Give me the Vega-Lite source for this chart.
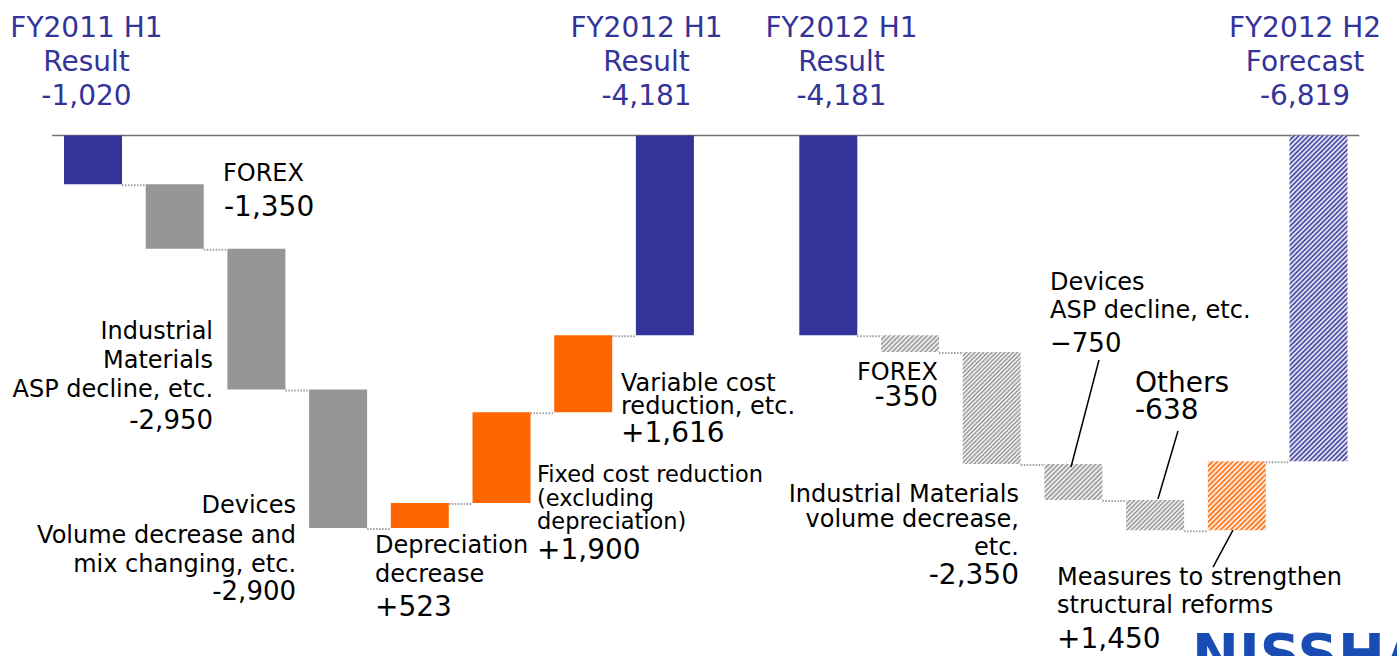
{
  "$schema": "https://vega.github.io/schema/vega-lite/v6.json",
  "width": 1397,
  "height": 656,
  "padding": 0,
  "autosize": {"type": "none"},
  "background": "white",
  "config": {"view": {"stroke": null}},
  "datasets": {
    "bars": [
      {"slot": 0, "item": "FY2011 H1 Result", "delta": -1020, "start": 0, "end": -1020, "kind": "result", "next": 1},
      {"slot": 1, "item": "FOREX", "delta": -1350, "start": -1020, "end": -2370, "kind": "decrease", "next": 2},
      {"slot": 2, "item": "Industrial Materials ASP decline", "delta": -2950, "start": -2370, "end": -5320, "kind": "decrease", "next": 3},
      {"slot": 3, "item": "Devices volume decrease and mix changing", "delta": -2900, "start": -5320, "end": -8220, "kind": "decrease", "next": 4},
      {"slot": 4, "item": "Depreciation decrease", "delta": 523, "start": -8220, "end": -7697, "kind": "increase", "next": 5},
      {"slot": 5, "item": "Fixed cost reduction", "delta": 1900, "start": -7697, "end": -5797, "kind": "increase", "next": 6},
      {"slot": 6, "item": "Variable cost reduction", "delta": 1616, "start": -5797, "end": -4181, "kind": "increase", "next": 7},
      {"slot": 7, "item": "FY2012 H1 Result", "delta": -4181, "start": 0, "end": -4181, "kind": "result", "next": null},
      {"slot": 9, "item": "FY2012 H1 Result", "delta": -4181, "start": 0, "end": -4181, "kind": "result", "next": 10},
      {"slot": 10, "item": "FOREX", "delta": -350, "start": -4181, "end": -4531, "kind": "decrease forecast", "next": 11},
      {"slot": 11, "item": "Industrial Materials volume decrease", "delta": -2350, "start": -4531, "end": -6881, "kind": "decrease forecast", "next": 12},
      {"slot": 12, "item": "Devices ASP decline", "delta": -750, "start": -6881, "end": -7631, "kind": "decrease forecast", "next": 13},
      {"slot": 13, "item": "Others", "delta": -638, "start": -7631, "end": -8269, "kind": "decrease forecast", "next": 14},
      {"slot": 14, "item": "Measures to strengthen structural reforms", "delta": 1450, "start": -8269, "end": -6819, "kind": "increase forecast", "next": 15},
      {"slot": 15, "item": "FY2012 H2 Forecast", "delta": -6819, "start": 0, "end": -6819, "kind": "result forecast", "next": null}
    ],
    "labels": [
      {"t": "FY2011 H1", "x": -0.08, "y": 2063, "g": "top"},
      {"t": "Result", "x": -0.08, "y": 1351, "g": "top"},
      {"t": "-1,020", "x": -0.08, "y": 639, "g": "top"},
      {"t": "FY2012 H1", "x": 6.775, "y": 2063, "g": "top"},
      {"t": "Result", "x": 6.775, "y": 1351, "g": "top"},
      {"t": "-4,181", "x": 6.775, "y": 639, "g": "top"},
      {"t": "FY2012 H1", "x": 9.162, "y": 2063, "g": "top"},
      {"t": "Result", "x": 9.162, "y": 1351, "g": "top"},
      {"t": "-4,181", "x": 9.162, "y": 639, "g": "top"},
      {"t": "FY2012 H2", "x": 14.835, "y": 2063, "g": "top"},
      {"t": "Forecast", "x": 14.835, "y": 1351, "g": "top"},
      {"t": "-6,819", "x": 14.835, "y": 639, "g": "top"},
      {"t": "FOREX", "x": 1.591, "y": -953, "g": "nl"},
      {"t": "-1,350", "x": 1.603, "y": -1686, "g": "vl"},
      {"t": "Industrial", "x": 1.469, "y": -4261, "g": "nr"},
      {"t": "Materials", "x": 1.469, "y": -4869, "g": "nr"},
      {"t": "ASP decline, etc.", "x": 1.469, "y": -5476, "g": "nr"},
      {"t": "-2,950", "x": 1.469, "y": -6146, "g": "vsr"},
      {"t": "Devices", "x": 2.485, "y": -7906, "g": "nr"},
      {"t": "Volume decrease and", "x": 2.485, "y": -8534, "g": "nr"},
      {"t": "mix changing, etc.", "x": 2.485, "y": -9141, "g": "nr"},
      {"t": "-2,900", "x": 2.485, "y": -9727, "g": "vsr"},
      {"t": "Depreciation", "x": 3.452, "y": -8743, "g": "nl"},
      {"t": "decrease", "x": 3.452, "y": -9351, "g": "nl"},
      {"t": "+523", "x": 3.452, "y": -10063, "g": "vl"},
      {"t": "Fixed cost reduction", "x": 5.435, "y": -7256, "g": "ns"},
      {"t": "(excluding", "x": 5.435, "y": -7759, "g": "ns"},
      {"t": "depreciation)", "x": 5.435, "y": -8240, "g": "ns"},
      {"t": "+1,900", "x": 5.435, "y": -8869, "g": "vl"},
      {"t": "Variable cost", "x": 6.463, "y": -5351, "g": "nl"},
      {"t": "reduction, etc.", "x": 6.463, "y": -5833, "g": "nl"},
      {"t": "+1,616", "x": 6.463, "y": -6419, "g": "vl"},
      {"t": "FOREX", "x": 10.343, "y": -5120, "g": "nr"},
      {"t": "-350", "x": 10.343, "y": -5665, "g": "vr"},
      {"t": "Industrial Materials", "x": 11.334, "y": -7675, "g": "nr"},
      {"t": "volume decrease,", "x": 11.334, "y": -8199, "g": "nr"},
      {"t": "etc.", "x": 11.334, "y": -8785, "g": "nr"},
      {"t": "-2,350", "x": 11.334, "y": -9392, "g": "vr"},
      {"t": "Devices", "x": 11.714, "y": -3236, "g": "nl"},
      {"t": "ASP decline, etc.", "x": 11.714, "y": -3822, "g": "nl"},
      {"t": "−750", "x": 11.714, "y": -4534, "g": "vsl"},
      {"t": "Others", "x": 12.754, "y": -5372, "g": "vl"},
      {"t": "-638", "x": 12.754, "y": -5937, "g": "vl"},
      {"t": "Measures to strengthen", "x": 11.799, "y": -9413, "g": "nl"},
      {"t": "structural reforms", "x": 11.799, "y": -9999, "g": "nl"},
      {"t": "+1,450", "x": 11.799, "y": -10733, "g": "vl"},
      {"t": "NISSHA", "x": 13.452, "y": -11256, "g": "logo"}
    ],
    "leaders": [
      {"x": 12.313, "y": -4701, "x2": 11.971, "y2": -6942},
      {"x": 13.28, "y": -6188, "x2": 13.035, "y2": -7612},
      {"x": 13.953, "y": -8262, "x2": 13.709, "y2": -9037}
    ]
  },
  "layer": [
    {
      "data": {"values": [{"zero": 0}]},
      "mark": {"type": "rule", "color": "#707070", "strokeWidth": 1.6},
      "encoding": {
        "x": {"datum": -0.5, "type": "quantitative", "scale": {"domain": [-1.1383, 15.9608], "nice": false, "zero": false, "padding": 0}, "axis": null},
        "x2": {"datum": 15.5},
        "y": {"field": "zero", "type": "quantitative", "scale": {"domain": [-10900, 2838], "nice": false, "zero": false}, "axis": null}
      }
    },
    {
      "data": {"name": "bars"},
      "transform": [{"filter": "datum.next != null"}],
      "mark": {"type": "rule", "color": "#a0a0a0", "strokeWidth": 2, "strokeDash": [1.5, 1.5], "xOffset": 29, "x2Offset": -29, "yOffset": 1},
      "encoding": {
        "x": {"field": "slot", "type": "quantitative", "scale": {"domain": [-1.1383, 15.9608], "nice": false, "zero": false, "padding": 0}, "axis": null},
        "x2": {"field": "next"},
        "y": {"field": "end", "type": "quantitative", "scale": {"domain": [-10900, 2838], "nice": false, "zero": false}, "axis": null}
      }
    },
    {
      "data": {"name": "bars"},
      "transform": [{"filter": "datum.slot < 10"}],
      "mark": {"type": "bar", "width": 58, "orient": "vertical"},
      "encoding": {
        "x": {"field": "slot", "type": "quantitative", "scale": {"domain": [-1.1383, 15.9608], "nice": false, "zero": false, "padding": 0}, "axis": null},
        "y": {"field": "start", "type": "quantitative", "scale": {"domain": [-10900, 2838], "nice": false, "zero": false}, "axis": null},
        "y2": {"field": "end"},
        "color": {
          "field": "kind", "type": "nominal", "legend": null,
          "scale": {"domain": ["result", "decrease", "increase"], "range": ["#333399", "#969696", "#ff6600"]}
        }
      }
    },
    {
      "data": {"name": "bars"},
      "transform": [{"filter": "datum.slot == 10"}],
      "mark": {"type": "bar", "width": 58, "orient": "vertical", "fill": {"gradient": "linear", "x1": 0, "y1": 0, "x2": 1.1893, "y2": 0.3427, "stops": [
        {"offset": 0, "color": "#8f8f8f"}, {"offset": 0.03125, "color": "#fff"}, {"offset": 0.0625, "color": "#8f8f8f"}, {"offset": 0.09375, "color": "#fff"},
        {"offset": 0.125, "color": "#8f8f8f"}, {"offset": 0.15625, "color": "#fff"}, {"offset": 0.1875, "color": "#8f8f8f"}, {"offset": 0.21875, "color": "#fff"},
        {"offset": 0.25, "color": "#8f8f8f"}, {"offset": 0.28125, "color": "#fff"}, {"offset": 0.3125, "color": "#8f8f8f"}, {"offset": 0.34375, "color": "#fff"},
        {"offset": 0.375, "color": "#8f8f8f"}, {"offset": 0.40625, "color": "#fff"}, {"offset": 0.4375, "color": "#8f8f8f"}, {"offset": 0.46875, "color": "#fff"},
        {"offset": 0.5, "color": "#8f8f8f"}, {"offset": 0.53125, "color": "#fff"}, {"offset": 0.5625, "color": "#8f8f8f"}, {"offset": 0.59375, "color": "#fff"},
        {"offset": 0.625, "color": "#8f8f8f"}, {"offset": 0.65625, "color": "#fff"}, {"offset": 0.6875, "color": "#8f8f8f"}, {"offset": 0.71875, "color": "#fff"},
        {"offset": 0.75, "color": "#8f8f8f"}, {"offset": 0.78125, "color": "#fff"}, {"offset": 0.8125, "color": "#8f8f8f"}, {"offset": 0.84375, "color": "#fff"},
        {"offset": 0.875, "color": "#8f8f8f"}, {"offset": 0.90625, "color": "#fff"}, {"offset": 0.9375, "color": "#8f8f8f"}, {"offset": 0.96875, "color": "#fff"},
        {"offset": 1, "color": "#8f8f8f"}]}},
      "encoding": {
        "x": {"field": "slot", "type": "quantitative", "scale": {"domain": [-1.1383, 15.9608], "nice": false, "zero": false, "padding": 0}, "axis": null},
        "y": {"field": "start", "type": "quantitative", "scale": {"domain": [-10900, 2838], "nice": false, "zero": false}, "axis": null},
        "y2": {"field": "end"}
      }
    },
    {
      "data": {"name": "bars"},
      "transform": [{"filter": "datum.slot == 11"}],
      "mark": {"type": "bar", "width": 58, "orient": "vertical", "fill": {"gradient": "linear", "x1": 0, "y1": 0, "x2": 0.6188, "y2": 1.1971, "stops": [
        {"offset": 0, "color": "#8f8f8f"}, {"offset": 0.0125, "color": "#fff"}, {"offset": 0.025, "color": "#8f8f8f"}, {"offset": 0.0375, "color": "#fff"},
        {"offset": 0.05, "color": "#8f8f8f"}, {"offset": 0.0625, "color": "#fff"}, {"offset": 0.075, "color": "#8f8f8f"}, {"offset": 0.0875, "color": "#fff"},
        {"offset": 0.1, "color": "#8f8f8f"}, {"offset": 0.1125, "color": "#fff"}, {"offset": 0.125, "color": "#8f8f8f"}, {"offset": 0.1375, "color": "#fff"},
        {"offset": 0.15, "color": "#8f8f8f"}, {"offset": 0.1625, "color": "#fff"}, {"offset": 0.175, "color": "#8f8f8f"}, {"offset": 0.1875, "color": "#fff"},
        {"offset": 0.2, "color": "#8f8f8f"}, {"offset": 0.2125, "color": "#fff"}, {"offset": 0.225, "color": "#8f8f8f"}, {"offset": 0.2375, "color": "#fff"},
        {"offset": 0.25, "color": "#8f8f8f"}, {"offset": 0.2625, "color": "#fff"}, {"offset": 0.275, "color": "#8f8f8f"}, {"offset": 0.2875, "color": "#fff"},
        {"offset": 0.3, "color": "#8f8f8f"}, {"offset": 0.3125, "color": "#fff"}, {"offset": 0.325, "color": "#8f8f8f"}, {"offset": 0.3375, "color": "#fff"},
        {"offset": 0.35, "color": "#8f8f8f"}, {"offset": 0.3625, "color": "#fff"}, {"offset": 0.375, "color": "#8f8f8f"}, {"offset": 0.3875, "color": "#fff"},
        {"offset": 0.4, "color": "#8f8f8f"}, {"offset": 0.4125, "color": "#fff"}, {"offset": 0.425, "color": "#8f8f8f"}, {"offset": 0.4375, "color": "#fff"},
        {"offset": 0.45, "color": "#8f8f8f"}, {"offset": 0.4625, "color": "#fff"}, {"offset": 0.475, "color": "#8f8f8f"}, {"offset": 0.4875, "color": "#fff"},
        {"offset": 0.5, "color": "#8f8f8f"}, {"offset": 0.5125, "color": "#fff"}, {"offset": 0.525, "color": "#8f8f8f"}, {"offset": 0.5375, "color": "#fff"},
        {"offset": 0.55, "color": "#8f8f8f"}, {"offset": 0.5625, "color": "#fff"}, {"offset": 0.575, "color": "#8f8f8f"}, {"offset": 0.5875, "color": "#fff"},
        {"offset": 0.6, "color": "#8f8f8f"}, {"offset": 0.6125, "color": "#fff"}, {"offset": 0.625, "color": "#8f8f8f"}, {"offset": 0.6375, "color": "#fff"},
        {"offset": 0.65, "color": "#8f8f8f"}, {"offset": 0.6625, "color": "#fff"}, {"offset": 0.675, "color": "#8f8f8f"}, {"offset": 0.6875, "color": "#fff"},
        {"offset": 0.7, "color": "#8f8f8f"}, {"offset": 0.7125, "color": "#fff"}, {"offset": 0.725, "color": "#8f8f8f"}, {"offset": 0.7375, "color": "#fff"},
        {"offset": 0.75, "color": "#8f8f8f"}, {"offset": 0.7625, "color": "#fff"}, {"offset": 0.775, "color": "#8f8f8f"}, {"offset": 0.7875, "color": "#fff"},
        {"offset": 0.8, "color": "#8f8f8f"}, {"offset": 0.8125, "color": "#fff"}, {"offset": 0.825, "color": "#8f8f8f"}, {"offset": 0.8375, "color": "#fff"},
        {"offset": 0.85, "color": "#8f8f8f"}, {"offset": 0.8625, "color": "#fff"}, {"offset": 0.875, "color": "#8f8f8f"}, {"offset": 0.8875, "color": "#fff"},
        {"offset": 0.9, "color": "#8f8f8f"}, {"offset": 0.9125, "color": "#fff"}, {"offset": 0.925, "color": "#8f8f8f"}, {"offset": 0.9375, "color": "#fff"},
        {"offset": 0.95, "color": "#8f8f8f"}, {"offset": 0.9625, "color": "#fff"}, {"offset": 0.975, "color": "#8f8f8f"}, {"offset": 0.9875, "color": "#fff"},
        {"offset": 1, "color": "#8f8f8f"}]}},
      "encoding": {
        "x": {"field": "slot", "type": "quantitative", "scale": {"domain": [-1.1383, 15.9608], "nice": false, "zero": false, "padding": 0}, "axis": null},
        "y": {"field": "start", "type": "quantitative", "scale": {"domain": [-10900, 2838], "nice": false, "zero": false}, "axis": null},
        "y2": {"field": "end"}
      }
    },
    {
      "data": {"name": "bars"},
      "transform": [{"filter": "datum.slot == 12"}],
      "mark": {"type": "bar", "width": 58, "orient": "vertical", "fill": {"gradient": "linear", "x1": 0, "y1": 0, "x2": 1.171, "y2": 0.723, "stops": [
        {"offset": 0, "color": "#8f8f8f"}, {"offset": 0.025, "color": "#fff"}, {"offset": 0.05, "color": "#8f8f8f"}, {"offset": 0.075, "color": "#fff"},
        {"offset": 0.1, "color": "#8f8f8f"}, {"offset": 0.125, "color": "#fff"}, {"offset": 0.15, "color": "#8f8f8f"}, {"offset": 0.175, "color": "#fff"},
        {"offset": 0.2, "color": "#8f8f8f"}, {"offset": 0.225, "color": "#fff"}, {"offset": 0.25, "color": "#8f8f8f"}, {"offset": 0.275, "color": "#fff"},
        {"offset": 0.3, "color": "#8f8f8f"}, {"offset": 0.325, "color": "#fff"}, {"offset": 0.35, "color": "#8f8f8f"}, {"offset": 0.375, "color": "#fff"},
        {"offset": 0.4, "color": "#8f8f8f"}, {"offset": 0.425, "color": "#fff"}, {"offset": 0.45, "color": "#8f8f8f"}, {"offset": 0.475, "color": "#fff"},
        {"offset": 0.5, "color": "#8f8f8f"}, {"offset": 0.525, "color": "#fff"}, {"offset": 0.55, "color": "#8f8f8f"}, {"offset": 0.575, "color": "#fff"},
        {"offset": 0.6, "color": "#8f8f8f"}, {"offset": 0.625, "color": "#fff"}, {"offset": 0.65, "color": "#8f8f8f"}, {"offset": 0.675, "color": "#fff"},
        {"offset": 0.7, "color": "#8f8f8f"}, {"offset": 0.725, "color": "#fff"}, {"offset": 0.75, "color": "#8f8f8f"}, {"offset": 0.775, "color": "#fff"},
        {"offset": 0.8, "color": "#8f8f8f"}, {"offset": 0.825, "color": "#fff"}, {"offset": 0.85, "color": "#8f8f8f"}, {"offset": 0.875, "color": "#fff"},
        {"offset": 0.9, "color": "#8f8f8f"}, {"offset": 0.925, "color": "#fff"}, {"offset": 0.95, "color": "#8f8f8f"}, {"offset": 0.975, "color": "#fff"},
        {"offset": 1, "color": "#8f8f8f"}]}},
      "encoding": {
        "x": {"field": "slot", "type": "quantitative", "scale": {"domain": [-1.1383, 15.9608], "nice": false, "zero": false, "padding": 0}, "axis": null},
        "y": {"field": "start", "type": "quantitative", "scale": {"domain": [-10900, 2838], "nice": false, "zero": false}, "axis": null},
        "y2": {"field": "end"}
      }
    },
    {
      "data": {"name": "bars"},
      "transform": [{"filter": "datum.slot == 13"}],
      "mark": {"type": "bar", "width": 58, "orient": "vertical", "fill": {"gradient": "linear", "x1": 0, "y1": 0, "x2": 1.1954, "y2": 0.6278, "stops": [
        {"offset": 0, "color": "#8f8f8f"}, {"offset": 0.025, "color": "#fff"}, {"offset": 0.05, "color": "#8f8f8f"}, {"offset": 0.075, "color": "#fff"},
        {"offset": 0.1, "color": "#8f8f8f"}, {"offset": 0.125, "color": "#fff"}, {"offset": 0.15, "color": "#8f8f8f"}, {"offset": 0.175, "color": "#fff"},
        {"offset": 0.2, "color": "#8f8f8f"}, {"offset": 0.225, "color": "#fff"}, {"offset": 0.25, "color": "#8f8f8f"}, {"offset": 0.275, "color": "#fff"},
        {"offset": 0.3, "color": "#8f8f8f"}, {"offset": 0.325, "color": "#fff"}, {"offset": 0.35, "color": "#8f8f8f"}, {"offset": 0.375, "color": "#fff"},
        {"offset": 0.4, "color": "#8f8f8f"}, {"offset": 0.425, "color": "#fff"}, {"offset": 0.45, "color": "#8f8f8f"}, {"offset": 0.475, "color": "#fff"},
        {"offset": 0.5, "color": "#8f8f8f"}, {"offset": 0.525, "color": "#fff"}, {"offset": 0.55, "color": "#8f8f8f"}, {"offset": 0.575, "color": "#fff"},
        {"offset": 0.6, "color": "#8f8f8f"}, {"offset": 0.625, "color": "#fff"}, {"offset": 0.65, "color": "#8f8f8f"}, {"offset": 0.675, "color": "#fff"},
        {"offset": 0.7, "color": "#8f8f8f"}, {"offset": 0.725, "color": "#fff"}, {"offset": 0.75, "color": "#8f8f8f"}, {"offset": 0.775, "color": "#fff"},
        {"offset": 0.8, "color": "#8f8f8f"}, {"offset": 0.825, "color": "#fff"}, {"offset": 0.85, "color": "#8f8f8f"}, {"offset": 0.875, "color": "#fff"},
        {"offset": 0.9, "color": "#8f8f8f"}, {"offset": 0.925, "color": "#fff"}, {"offset": 0.95, "color": "#8f8f8f"}, {"offset": 0.975, "color": "#fff"},
        {"offset": 1, "color": "#8f8f8f"}]}},
      "encoding": {
        "x": {"field": "slot", "type": "quantitative", "scale": {"domain": [-1.1383, 15.9608], "nice": false, "zero": false, "padding": 0}, "axis": null},
        "y": {"field": "start", "type": "quantitative", "scale": {"domain": [-10900, 2838], "nice": false, "zero": false}, "axis": null},
        "y2": {"field": "end"}
      }
    },
    {
      "data": {"name": "bars"},
      "transform": [{"filter": "datum.slot == 14"}],
      "mark": {"type": "bar", "width": 58, "orient": "vertical", "fill": {"gradient": "linear", "x1": 0, "y1": 0, "x2": 0.9046, "y2": 1.0799, "stops": [
        {"offset": 0, "color": "#ff6600"}, {"offset": 0.02, "color": "#fff"}, {"offset": 0.04, "color": "#ff6600"}, {"offset": 0.06, "color": "#fff"},
        {"offset": 0.08, "color": "#ff6600"}, {"offset": 0.1, "color": "#fff"}, {"offset": 0.12, "color": "#ff6600"}, {"offset": 0.14, "color": "#fff"},
        {"offset": 0.16, "color": "#ff6600"}, {"offset": 0.18, "color": "#fff"}, {"offset": 0.2, "color": "#ff6600"}, {"offset": 0.22, "color": "#fff"},
        {"offset": 0.24, "color": "#ff6600"}, {"offset": 0.26, "color": "#fff"}, {"offset": 0.28, "color": "#ff6600"}, {"offset": 0.3, "color": "#fff"},
        {"offset": 0.32, "color": "#ff6600"}, {"offset": 0.34, "color": "#fff"}, {"offset": 0.36, "color": "#ff6600"}, {"offset": 0.38, "color": "#fff"},
        {"offset": 0.4, "color": "#ff6600"}, {"offset": 0.42, "color": "#fff"}, {"offset": 0.44, "color": "#ff6600"}, {"offset": 0.46, "color": "#fff"},
        {"offset": 0.48, "color": "#ff6600"}, {"offset": 0.5, "color": "#fff"}, {"offset": 0.52, "color": "#ff6600"}, {"offset": 0.54, "color": "#fff"},
        {"offset": 0.56, "color": "#ff6600"}, {"offset": 0.58, "color": "#fff"}, {"offset": 0.6, "color": "#ff6600"}, {"offset": 0.62, "color": "#fff"},
        {"offset": 0.64, "color": "#ff6600"}, {"offset": 0.66, "color": "#fff"}, {"offset": 0.68, "color": "#ff6600"}, {"offset": 0.7, "color": "#fff"},
        {"offset": 0.72, "color": "#ff6600"}, {"offset": 0.74, "color": "#fff"}, {"offset": 0.76, "color": "#ff6600"}, {"offset": 0.78, "color": "#fff"},
        {"offset": 0.8, "color": "#ff6600"}, {"offset": 0.82, "color": "#fff"}, {"offset": 0.84, "color": "#ff6600"}, {"offset": 0.86, "color": "#fff"},
        {"offset": 0.88, "color": "#ff6600"}, {"offset": 0.9, "color": "#fff"}, {"offset": 0.92, "color": "#ff6600"}, {"offset": 0.94, "color": "#fff"},
        {"offset": 0.96, "color": "#ff6600"}, {"offset": 0.98, "color": "#fff"}, {"offset": 1, "color": "#ff6600"}]}},
      "encoding": {
        "x": {"field": "slot", "type": "quantitative", "scale": {"domain": [-1.1383, 15.9608], "nice": false, "zero": false, "padding": 0}, "axis": null},
        "y": {"field": "start", "type": "quantitative", "scale": {"domain": [-10900, 2838], "nice": false, "zero": false}, "axis": null},
        "y2": {"field": "end"}
      }
    },
    {
      "data": {"name": "bars"},
      "transform": [{"filter": "datum.slot == 15"}],
      "mark": {"type": "bar", "width": 58, "orient": "vertical", "fill": {"gradient": "linear", "x1": 0, "y1": 0, "x2": 0.20341, "y2": 1.1419, "stops": [
        {"offset": 0, "color": "#333399"}, {"offset": 0.00625, "color": "#fff"}, {"offset": 0.0125, "color": "#333399"}, {"offset": 0.01875, "color": "#fff"},
        {"offset": 0.025, "color": "#333399"}, {"offset": 0.03125, "color": "#fff"}, {"offset": 0.0375, "color": "#333399"}, {"offset": 0.04375, "color": "#fff"},
        {"offset": 0.05, "color": "#333399"}, {"offset": 0.05625, "color": "#fff"}, {"offset": 0.0625, "color": "#333399"}, {"offset": 0.06875, "color": "#fff"},
        {"offset": 0.075, "color": "#333399"}, {"offset": 0.08125, "color": "#fff"}, {"offset": 0.0875, "color": "#333399"}, {"offset": 0.09375, "color": "#fff"},
        {"offset": 0.1, "color": "#333399"}, {"offset": 0.10625, "color": "#fff"}, {"offset": 0.1125, "color": "#333399"}, {"offset": 0.11875, "color": "#fff"},
        {"offset": 0.125, "color": "#333399"}, {"offset": 0.13125, "color": "#fff"}, {"offset": 0.1375, "color": "#333399"}, {"offset": 0.14375, "color": "#fff"},
        {"offset": 0.15, "color": "#333399"}, {"offset": 0.15625, "color": "#fff"}, {"offset": 0.1625, "color": "#333399"}, {"offset": 0.16875, "color": "#fff"},
        {"offset": 0.175, "color": "#333399"}, {"offset": 0.18125, "color": "#fff"}, {"offset": 0.1875, "color": "#333399"}, {"offset": 0.19375, "color": "#fff"},
        {"offset": 0.2, "color": "#333399"}, {"offset": 0.20625, "color": "#fff"}, {"offset": 0.2125, "color": "#333399"}, {"offset": 0.21875, "color": "#fff"},
        {"offset": 0.225, "color": "#333399"}, {"offset": 0.23125, "color": "#fff"}, {"offset": 0.2375, "color": "#333399"}, {"offset": 0.24375, "color": "#fff"},
        {"offset": 0.25, "color": "#333399"}, {"offset": 0.25625, "color": "#fff"}, {"offset": 0.2625, "color": "#333399"}, {"offset": 0.26875, "color": "#fff"},
        {"offset": 0.275, "color": "#333399"}, {"offset": 0.28125, "color": "#fff"}, {"offset": 0.2875, "color": "#333399"}, {"offset": 0.29375, "color": "#fff"},
        {"offset": 0.3, "color": "#333399"}, {"offset": 0.30625, "color": "#fff"}, {"offset": 0.3125, "color": "#333399"}, {"offset": 0.31875, "color": "#fff"},
        {"offset": 0.325, "color": "#333399"}, {"offset": 0.33125, "color": "#fff"}, {"offset": 0.3375, "color": "#333399"}, {"offset": 0.34375, "color": "#fff"},
        {"offset": 0.35, "color": "#333399"}, {"offset": 0.35625, "color": "#fff"}, {"offset": 0.3625, "color": "#333399"}, {"offset": 0.36875, "color": "#fff"},
        {"offset": 0.375, "color": "#333399"}, {"offset": 0.38125, "color": "#fff"}, {"offset": 0.3875, "color": "#333399"}, {"offset": 0.39375, "color": "#fff"},
        {"offset": 0.4, "color": "#333399"}, {"offset": 0.40625, "color": "#fff"}, {"offset": 0.4125, "color": "#333399"}, {"offset": 0.41875, "color": "#fff"},
        {"offset": 0.425, "color": "#333399"}, {"offset": 0.43125, "color": "#fff"}, {"offset": 0.4375, "color": "#333399"}, {"offset": 0.44375, "color": "#fff"},
        {"offset": 0.45, "color": "#333399"}, {"offset": 0.45625, "color": "#fff"}, {"offset": 0.4625, "color": "#333399"}, {"offset": 0.46875, "color": "#fff"},
        {"offset": 0.475, "color": "#333399"}, {"offset": 0.48125, "color": "#fff"}, {"offset": 0.4875, "color": "#333399"}, {"offset": 0.49375, "color": "#fff"},
        {"offset": 0.5, "color": "#333399"}, {"offset": 0.50625, "color": "#fff"}, {"offset": 0.5125, "color": "#333399"}, {"offset": 0.51875, "color": "#fff"},
        {"offset": 0.525, "color": "#333399"}, {"offset": 0.53125, "color": "#fff"}, {"offset": 0.5375, "color": "#333399"}, {"offset": 0.54375, "color": "#fff"},
        {"offset": 0.55, "color": "#333399"}, {"offset": 0.55625, "color": "#fff"}, {"offset": 0.5625, "color": "#333399"}, {"offset": 0.56875, "color": "#fff"},
        {"offset": 0.575, "color": "#333399"}, {"offset": 0.58125, "color": "#fff"}, {"offset": 0.5875, "color": "#333399"}, {"offset": 0.59375, "color": "#fff"},
        {"offset": 0.6, "color": "#333399"}, {"offset": 0.60625, "color": "#fff"}, {"offset": 0.6125, "color": "#333399"}, {"offset": 0.61875, "color": "#fff"},
        {"offset": 0.625, "color": "#333399"}, {"offset": 0.63125, "color": "#fff"}, {"offset": 0.6375, "color": "#333399"}, {"offset": 0.64375, "color": "#fff"},
        {"offset": 0.65, "color": "#333399"}, {"offset": 0.65625, "color": "#fff"}, {"offset": 0.6625, "color": "#333399"}, {"offset": 0.66875, "color": "#fff"},
        {"offset": 0.675, "color": "#333399"}, {"offset": 0.68125, "color": "#fff"}, {"offset": 0.6875, "color": "#333399"}, {"offset": 0.69375, "color": "#fff"},
        {"offset": 0.7, "color": "#333399"}, {"offset": 0.70625, "color": "#fff"}, {"offset": 0.7125, "color": "#333399"}, {"offset": 0.71875, "color": "#fff"},
        {"offset": 0.725, "color": "#333399"}, {"offset": 0.73125, "color": "#fff"}, {"offset": 0.7375, "color": "#333399"}, {"offset": 0.74375, "color": "#fff"},
        {"offset": 0.75, "color": "#333399"}, {"offset": 0.75625, "color": "#fff"}, {"offset": 0.7625, "color": "#333399"}, {"offset": 0.76875, "color": "#fff"},
        {"offset": 0.775, "color": "#333399"}, {"offset": 0.78125, "color": "#fff"}, {"offset": 0.7875, "color": "#333399"}, {"offset": 0.79375, "color": "#fff"},
        {"offset": 0.8, "color": "#333399"}, {"offset": 0.80625, "color": "#fff"}, {"offset": 0.8125, "color": "#333399"}, {"offset": 0.81875, "color": "#fff"},
        {"offset": 0.825, "color": "#333399"}, {"offset": 0.83125, "color": "#fff"}, {"offset": 0.8375, "color": "#333399"}, {"offset": 0.84375, "color": "#fff"},
        {"offset": 0.85, "color": "#333399"}, {"offset": 0.85625, "color": "#fff"}, {"offset": 0.8625, "color": "#333399"}, {"offset": 0.86875, "color": "#fff"},
        {"offset": 0.875, "color": "#333399"}, {"offset": 0.88125, "color": "#fff"}, {"offset": 0.8875, "color": "#333399"}, {"offset": 0.89375, "color": "#fff"},
        {"offset": 0.9, "color": "#333399"}, {"offset": 0.90625, "color": "#fff"}, {"offset": 0.9125, "color": "#333399"}, {"offset": 0.91875, "color": "#fff"},
        {"offset": 0.925, "color": "#333399"}, {"offset": 0.93125, "color": "#fff"}, {"offset": 0.9375, "color": "#333399"}, {"offset": 0.94375, "color": "#fff"},
        {"offset": 0.95, "color": "#333399"}, {"offset": 0.95625, "color": "#fff"}, {"offset": 0.9625, "color": "#333399"}, {"offset": 0.96875, "color": "#fff"},
        {"offset": 0.975, "color": "#333399"}, {"offset": 0.98125, "color": "#fff"}, {"offset": 0.9875, "color": "#333399"}, {"offset": 0.99375, "color": "#fff"},
        {"offset": 1, "color": "#333399"}]}},
      "encoding": {
        "x": {"field": "slot", "type": "quantitative", "scale": {"domain": [-1.1383, 15.9608], "nice": false, "zero": false, "padding": 0}, "axis": null},
        "y": {"field": "start", "type": "quantitative", "scale": {"domain": [-10900, 2838], "nice": false, "zero": false}, "axis": null},
        "y2": {"field": "end"}
      }
    },
    {
      "data": {"name": "leaders"},
      "mark": {"type": "rule", "color": "#000000", "strokeWidth": 1.5},
      "encoding": {
        "x": {"field": "x", "type": "quantitative", "scale": {"domain": [-1.1383, 15.9608], "nice": false, "zero": false, "padding": 0}, "axis": null},
        "x2": {"field": "x2"},
        "y": {"field": "y", "type": "quantitative", "scale": {"domain": [-10900, 2838], "nice": false, "zero": false}, "axis": null},
        "y2": {"field": "y2"}
      }
    },
    {
      "data": {"name": "labels"},
      "transform": [{"filter": "datum.g == 'top'"}],
      "mark": {"type": "text", "align": "center", "baseline": "alphabetic", "font": "DejaVu Sans", "fontSize": 28, "color": "#333399"},
      "encoding": {
        "x": {"field": "x", "type": "quantitative", "scale": {"domain": [-1.1383, 15.9608], "nice": false, "zero": false, "padding": 0}, "axis": null},
        "y": {"field": "y", "type": "quantitative", "scale": {"domain": [-10900, 2838], "nice": false, "zero": false}, "axis": null},
        "text": {"field": "t"}
      }
    },
    {
      "data": {"name": "labels"},
      "transform": [{"filter": "datum.g == 'nl'"}],
      "mark": {"type": "text", "align": "left", "baseline": "alphabetic", "font": "DejaVu Sans", "fontSize": 24, "color": "#000000"},
      "encoding": {
        "x": {"field": "x", "type": "quantitative", "scale": {"domain": [-1.1383, 15.9608], "nice": false, "zero": false, "padding": 0}, "axis": null},
        "y": {"field": "y", "type": "quantitative", "scale": {"domain": [-10900, 2838], "nice": false, "zero": false}, "axis": null},
        "text": {"field": "t"}
      }
    },
    {
      "data": {"name": "labels"},
      "transform": [{"filter": "datum.g == 'ns'"}],
      "mark": {"type": "text", "align": "left", "baseline": "alphabetic", "font": "DejaVu Sans", "fontSize": 22.5, "color": "#000000"},
      "encoding": {
        "x": {"field": "x", "type": "quantitative", "scale": {"domain": [-1.1383, 15.9608], "nice": false, "zero": false, "padding": 0}, "axis": null},
        "y": {"field": "y", "type": "quantitative", "scale": {"domain": [-10900, 2838], "nice": false, "zero": false}, "axis": null},
        "text": {"field": "t"}
      }
    },
    {
      "data": {"name": "labels"},
      "transform": [{"filter": "datum.g == 'nr'"}],
      "mark": {"type": "text", "align": "right", "baseline": "alphabetic", "font": "DejaVu Sans", "fontSize": 24, "color": "#000000"},
      "encoding": {
        "x": {"field": "x", "type": "quantitative", "scale": {"domain": [-1.1383, 15.9608], "nice": false, "zero": false, "padding": 0}, "axis": null},
        "y": {"field": "y", "type": "quantitative", "scale": {"domain": [-10900, 2838], "nice": false, "zero": false}, "axis": null},
        "text": {"field": "t"}
      }
    },
    {
      "data": {"name": "labels"},
      "transform": [{"filter": "datum.g == 'vl'"}],
      "mark": {"type": "text", "align": "left", "baseline": "alphabetic", "font": "DejaVu Sans", "fontSize": 28, "color": "#000000"},
      "encoding": {
        "x": {"field": "x", "type": "quantitative", "scale": {"domain": [-1.1383, 15.9608], "nice": false, "zero": false, "padding": 0}, "axis": null},
        "y": {"field": "y", "type": "quantitative", "scale": {"domain": [-10900, 2838], "nice": false, "zero": false}, "axis": null},
        "text": {"field": "t"}
      }
    },
    {
      "data": {"name": "labels"},
      "transform": [{"filter": "datum.g == 'vsl'"}],
      "mark": {"type": "text", "align": "left", "baseline": "alphabetic", "font": "DejaVu Sans", "fontSize": 26, "color": "#000000"},
      "encoding": {
        "x": {"field": "x", "type": "quantitative", "scale": {"domain": [-1.1383, 15.9608], "nice": false, "zero": false, "padding": 0}, "axis": null},
        "y": {"field": "y", "type": "quantitative", "scale": {"domain": [-10900, 2838], "nice": false, "zero": false}, "axis": null},
        "text": {"field": "t"}
      }
    },
    {
      "data": {"name": "labels"},
      "transform": [{"filter": "datum.g == 'vr'"}],
      "mark": {"type": "text", "align": "right", "baseline": "alphabetic", "font": "DejaVu Sans", "fontSize": 28, "color": "#000000"},
      "encoding": {
        "x": {"field": "x", "type": "quantitative", "scale": {"domain": [-1.1383, 15.9608], "nice": false, "zero": false, "padding": 0}, "axis": null},
        "y": {"field": "y", "type": "quantitative", "scale": {"domain": [-10900, 2838], "nice": false, "zero": false}, "axis": null},
        "text": {"field": "t"}
      }
    },
    {
      "data": {"name": "labels"},
      "transform": [{"filter": "datum.g == 'vsr'"}],
      "mark": {"type": "text", "align": "right", "baseline": "alphabetic", "font": "DejaVu Sans", "fontSize": 26, "color": "#000000"},
      "encoding": {
        "x": {"field": "x", "type": "quantitative", "scale": {"domain": [-1.1383, 15.9608], "nice": false, "zero": false, "padding": 0}, "axis": null},
        "y": {"field": "y", "type": "quantitative", "scale": {"domain": [-10900, 2838], "nice": false, "zero": false}, "axis": null},
        "text": {"field": "t"}
      }
    },
    {
      "data": {"name": "labels"},
      "transform": [{"filter": "datum.g == 'logo'"}],
      "mark": {"type": "text", "align": "left", "baseline": "alphabetic", "font": "DejaVu Sans", "fontWeight": "bold", "fontSize": 56, "color": "#1a4db3"},
      "encoding": {
        "x": {"field": "x", "type": "quantitative", "scale": {"domain": [-1.1383, 15.9608], "nice": false, "zero": false, "padding": 0}, "axis": null},
        "y": {"field": "y", "type": "quantitative", "scale": {"domain": [-10900, 2838], "nice": false, "zero": false}, "axis": null},
        "text": {"field": "t"}
      }
    }
  ]
}
